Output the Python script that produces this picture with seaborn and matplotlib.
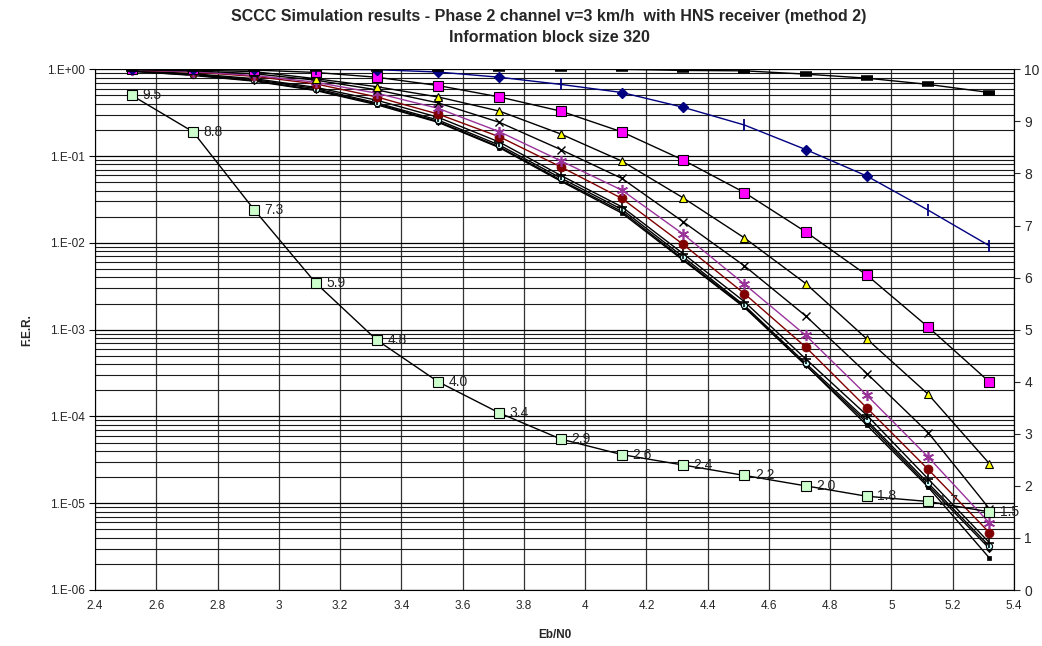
import matplotlib
matplotlib.use("Agg")
import matplotlib.pyplot as plt
import matplotlib.ticker as mticker
import seaborn as sns
import numpy as np

# ---------------- data ----------------
ebn0 = [2.52, 2.72, 2.92, 3.12, 3.32, 3.52, 3.72, 3.92, 4.12, 4.32, 4.52, 4.72, 4.92, 5.12, 5.32]

fer_top_black = [1.0, 1.0, 1.0, 1.0, 1.0, 1.0, 1.0, 1.0, 1.0, 0.97, 0.96, 0.88, 0.79, 0.67, 0.54]
fer_blue = [1.0, 1.0, 1.0, 1.0, 0.99, 0.93, 0.81, 0.67, 0.54, 0.365, 0.228, 0.119, 0.0588, 0.0238, 0.00924]
blue_diamond_idx = [0, 1, 2, 4, 5, 6, 8, 9, 11, 12]
blue_plus_idx = [3, 7, 10, 13, 14]
fer_magenta = [1.0, 1.0, 0.98, 0.92, 0.81, 0.65, 0.48, 0.33, 0.19, 0.090, 0.038, 0.0134, 0.00424, 0.00107, 0.000249]
fer_yellow = [1.0, 0.98, 0.94, 0.78, 0.63, 0.48, 0.33, 0.18, 0.0875, 0.033, 0.0114, 0.0034, 0.00078, 0.00018, 2.85e-5]
fer_cross = [0.99, 0.96, 0.89, 0.75, 0.58, 0.41, 0.245, 0.119, 0.0553, 0.0175, 0.00543, 0.00144, 0.000312, 6.5e-5, 8.6e-6]
fer_purple = [0.98, 0.94, 0.85, 0.71, 0.53, 0.355, 0.191, 0.0883, 0.0405, 0.0126, 0.00334, 0.00086, 0.000175, 3.4e-5, 5.9e-6]
fer_red = [0.98, 0.93, 0.83, 0.68, 0.48, 0.305, 0.167, 0.0753, 0.0325, 0.0096, 0.0026, 0.00063, 0.000125, 2.45e-5, 4.57e-6]
fer_plus = [0.97, 0.89, 0.78, 0.62, 0.44, 0.28, 0.145, 0.060, 0.026, 0.0075, 0.0021, 0.00046, 1.03e-4, 1.9e-5, 3.5e-6]
fer_cyan = [0.96, 0.87, 0.76, 0.60, 0.41, 0.26, 0.134, 0.056, 0.0243, 0.0069, 0.0019, 0.00041, 9.0e-5, 1.7e-5, 3.2e-6]
fer_bdiam = [0.95, 0.86, 0.74, 0.58, 0.40, 0.25, 0.128, 0.053, 0.023, 0.0065, 0.00185, 0.00039, 8.5e-5, 1.6e-5, 3.0e-6]
fer_bdash = [0.95, 0.85, 0.73, 0.57, 0.39, 0.245, 0.125, 0.0515, 0.022, 0.0063, 0.0018, 0.00039, 7.9e-5, 1.53e-5, 2.33e-6]

iterations = [9.5, 8.8, 7.3, 5.9, 4.8, 4.0, 3.4, 2.9, 2.6, 2.4, 2.2, 2.0, 1.8, 1.7, 1.5]

x_ticks = [2.4, 2.6, 2.8, 3.0, 3.2, 3.4, 3.6, 3.8, 4.0, 4.2, 4.4, 4.6, 4.8, 5.0, 5.2, 5.4]
y_ticks = [1e0, 1e-1, 1e-2, 1e-3, 1e-4, 1e-5, 1e-6]
y_tick_labels = ["1.E+00", "1.E-01", "1.E-02", "1.E-03", "1.E-04", "1.E-05", "1.E-06"]
y2_ticks = list(range(0, 11))

title_line1 = "SCCC Simulation results - Phase 2 channel v=3 km/h  with HNS receiver (method 2)"
title_line2 = "Information block size 320"

# ---------------- style ----------------
sns.set_style("white")
plt.rcParams["font.family"] = ["Liberation Sans", "DejaVu Sans"]

fig = plt.figure(figsize=(10.42, 6.46), dpi=100)
ax = fig.add_axes([95 / 1042, 1 - 590 / 646, (1014 - 95) / 1042, (590 - 69.3) / 646])

ax.set_yscale("log")
ax.set_xlim(2.4, 5.4)
ax.set_ylim(1e-6, 1e0)

# grid
ax.set_xticks(x_ticks)
ax.xaxis.set_major_formatter(mticker.FuncFormatter(lambda v, p: f"{v:g}"))
ax.set_yticks(y_ticks)
ax.set_yticklabels(y_tick_labels)
ax.yaxis.set_minor_locator(mticker.LogLocator(base=10, subs=np.arange(2, 10), numticks=20))
ax.yaxis.set_minor_formatter(mticker.NullFormatter())
ax.grid(True, which="major", axis="y", color="#000000", lw=0.9)
ax.grid(True, which="minor", axis="y", color="#1a1a1a", lw=0.8)
ax.grid(True, which="major", axis="x", color="#333333", lw=0.9)
ax.set_axisbelow(True)
ax.tick_params(axis="y", which="minor", length=0)
ax.tick_params(axis="both", which="major", direction="out", length=4, width=0.8,
               labelsize=8.5, color="black")
ax.spines["top"].set_visible(False)
for s in ["left", "bottom", "right"]:
    ax.spines[s].set_color("black")
    ax.spines[s].set_linewidth(0.8)

def series(y, color, marker=None, ms=6, mfc=None, mec=None, mew=1.0, lw=1.0):
    kw = dict(x=ebn0, y=y, ax=ax, color=color, lw=lw, legend=False)
    if marker is not None:
        kw.update(marker=marker, markersize=ms,
                  markerfacecolor=mfc if mfc else color,
                  markeredgecolor=mec if mec else color, markeredgewidth=mew)
    sns.lineplot(**kw)

series(fer_bdash, "black", marker="s", ms=3.2, mfc="black", mec="black", mew=0.5)
series(fer_bdiam, "black", marker="D", ms=3.2, mfc="black", mec="black", mew=0.5)
series(fer_cyan, "black", marker="o", ms=4.5, mfc="#ccffff", mec="black", mew=0.8)
series(fer_plus, "black", marker="+", ms=7, mew=1.2)
series(fer_red, "#800000", marker="o", ms=6.5, mfc="#800000", mec="#800000", mew=0.5)
series(fer_purple, "#993399", marker=(6, 2, 0), ms=8, mfc="#993399", mec="#993399", mew=1.2)
series(fer_cross, "black", marker="x", ms=6, mew=1.0)
series(fer_yellow, "black", marker="^", ms=6, mfc="#ffff00", mec="black", mew=0.8)
series(fer_magenta, "black", marker="s", ms=6.5, mfc="#ff00ff", mec="black", mew=0.8)

# blue curve with mixed markers
series(fer_blue, "#000080")
ax.plot([ebn0[i] for i in blue_diamond_idx], [fer_blue[i] for i in blue_diamond_idx],
        ls="none", marker="D", ms=5, color="#000080")
ax.plot([ebn0[i] for i in blue_plus_idx], [fer_blue[i] for i in blue_plus_idx],
        ls="none", marker="|", ms=8, mew=1.3, color="#000080")

# top black curve with dash markers
series(fer_top_black, "black", marker="_", ms=9, mew=4)

ax.set_xlabel("Eb/N0", fontsize=8.5, fontweight="bold", labelpad=12)
ax.set_ylabel("F.E.R.", fontsize=8.5, fontweight="bold", labelpad=10)

fig.text(0.527, 1 - 16 / 646, title_line1, ha="center", va="center",
         fontsize=11.5, fontweight="bold")
fig.text(0.527, 1 - 37 / 646, title_line2, ha="center", va="center",
         fontsize=11.5, fontweight="bold")

# secondary axis: iterations
ax2 = ax.twinx()
ax2.set_ylim(0, 10)
ax2.set_yticks(y2_ticks)
ax2.tick_params(axis="y", direction="out", length=4, width=0.8, labelsize=10)
for s in ["top", "left", "bottom"]:
    ax2.spines[s].set_visible(False)
ax2.spines["right"].set_color("black")
ax2.spines["right"].set_linewidth(0.8)
sns.lineplot(x=ebn0, y=iterations, ax=ax2, color="black", lw=1.0, marker="s", markersize=6.5,
             markerfacecolor="#ccffcc", markeredgecolor="black", markeredgewidth=0.8, legend=False)
for xv, yv in zip(ebn0, iterations):
    ax2.annotate(f"{yv:.1f}", (xv, yv), xytext=(7.5, 0), textcoords="offset points",
                 ha="left", va="center", fontsize=10, color="#222222", annotation_clip=False)
ax2.set_ylabel("")
ax.set_xlim(2.4, 5.4)

fig.savefig("out.png", dpi=100)
